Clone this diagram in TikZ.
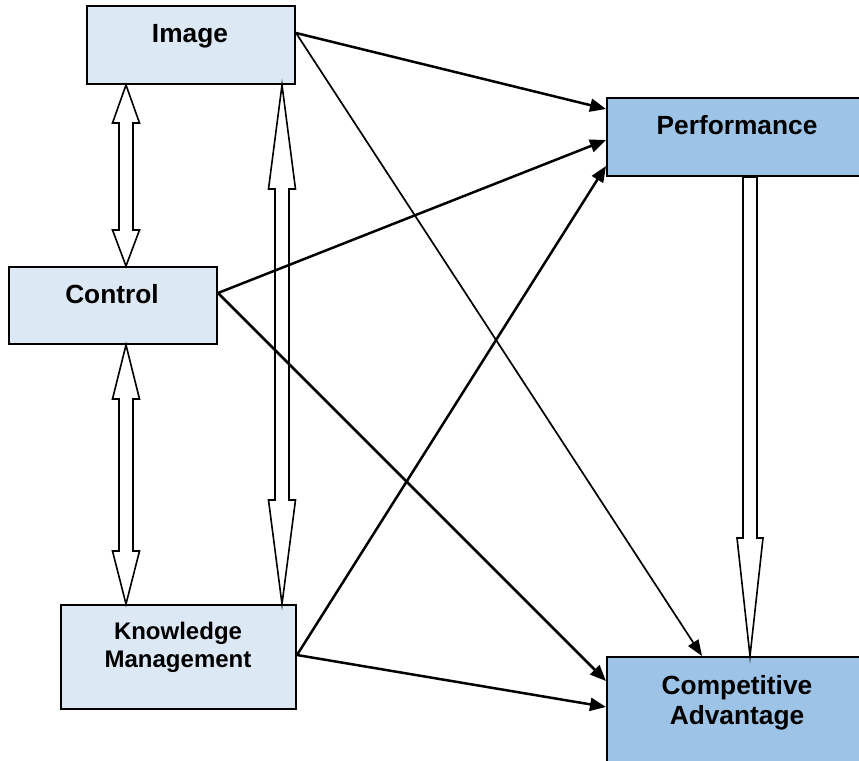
\documentclass[tikz,border=0pt]{standalone}
\usepackage{fontspec}
\setmainfont{Liberation Sans}
\usetikzlibrary{arrows.meta,calc}
\definecolor{boxlight}{RGB}{221,232,245}
\definecolor{boxdark}{RGB}{157,195,230}

% hollow two-headed arrow between two points on one vertical line
% #1 upper tip, #2 lower tip, #3 upper head length, #4 lower head length
\newcommand\twowayarrow[4]{%
  \draw[hollowarrow] let \p1=#1, \p2=#2 in
    (\x1,\y1) -- ({\x1+13.5pt},{\y1-#3}) -- ({\x1+7pt},{\y1-#3})
    -- ({\x1+7pt},{\y2+#4}) -- ({\x1+13.5pt},{\y2+#4}) -- (\x2,\y2)
    -- ({\x1-13.5pt},{\y2+#4}) -- ({\x1-7pt},{\y2+#4})
    -- ({\x1-7pt},{\y1-#3}) -- ({\x1-13.5pt},{\y1-#3}) -- cycle;}
% hollow one-headed arrow pointing down from #1 to #2, head length #3
\newcommand\onewayarrow[3]{%
  \draw[hollowarrow] let \p1=#1, \p2=#2 in
    ({\x1+7pt},\y1) -- ({\x1+7pt},{\y2+#3}) -- ({\x1+13pt},{\y2+#3})
    -- (\x2,\y2) -- ({\x1-13pt},{\y2+#3}) -- ({\x1-7pt},{\y2+#3})
    -- ({\x1-7pt},\y1) -- cycle;}

\begin{document}
\begin{tikzpicture}[x=1pt,y=-1pt,
  lightbox/.style={draw=black, line width=2pt, fill=boxlight, inner sep=0pt},
  darkbox/.style={draw=black, line width=2pt, fill=boxdark, inner sep=0pt},
  lbl/.style={inner sep=0pt, font=\fontsize{26.3}{30}\selectfont\bfseries},
  smalllbl/.style={inner sep=0pt, font=\fontsize{24}{28}\selectfont\bfseries},
  hollowarrow/.style={draw=black, line width=1.6pt, fill=white, line join=miter},
  conn/.style={draw=black, line width=2.5pt, -{Triangle[length=16pt,width=13pt]}},
  thinconn/.style={draw=black, line width=1.7pt, -{Triangle[length=16pt,width=12pt]}}]

\path[use as bounding box, clip] (0,0) rectangle (859,760);

% boxes
\node[lightbox, minimum width=208, minimum height=78] (img) at (191,45) {};
\node[lightbox, minimum width=208, minimum height=77] (ctl) at (113,305.5) {};
\node[lightbox, minimum width=235, minimum height=104] (km) at (178.5,657) {};
\node[darkbox, minimum width=260, minimum height=78] (perf) at (737,137) {};
\node[darkbox, minimum width=260, minimum height=106] (ca) at (737,710) {};

% box texts
\node[lbl, anchor=base] (t-img) at (190,43) {Image};
\node[lbl, anchor=base] (t-ctl) at (112,303) {Control};
\node[lbl, anchor=base] (t-perf) at (737,134) {Performance};
\node[lbl, align=center, anchor=north] (t-ca) at (737,675) {Competitive\\Advantage};
\node[smalllbl, align=center, anchor=north] (t-km) at (178,622) {Knowledge\\Management};

% hollow arrows
\twowayarrow{(img.south -| 126,0)}{(ctl.north -| 126,0)}{38pt}{36pt}
\twowayarrow{(ctl.south -| 126,0)}{(km.north -| 126,0)}{54pt}{53pt}
\twowayarrow{(img.south -| 282,0)}{(km.north -| 282,0)}{104pt}{104pt}
\onewayarrow{(perf.south -| 750,0)}{(ca.north -| 750,0)}{118pt}

% black arrows
\draw[conn] ([yshift=12pt]img.east) -- ([yshift=28pt]perf.west);
\draw[thinconn] ([yshift=12pt]img.east) -- ([xshift=96pt]ca.north west);
\draw[conn] ([yshift=12.5pt]ctl.east) -- ([yshift=-3pt]perf.west);
\draw[conn] ([yshift=12.5pt]ctl.east) -- ([yshift=29pt]ca.west);
\draw[conn] ([yshift=2pt]km.east) -- ([yshift=-29pt]perf.west);
\draw[conn] ([yshift=2pt]km.east) -- ([yshift=3pt]ca.west);
\end{tikzpicture}
\end{document}
